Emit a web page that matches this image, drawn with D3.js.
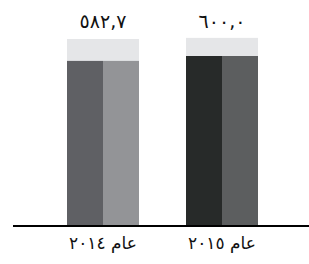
<!DOCTYPE html>
<html>
<head>
<meta charset="utf-8">
<script src="https://cdn.jsdelivr.net/npm/d3@7"></script>
<style>
  html, body { margin: 0; padding: 0; background: #fff; }
  text { font-family: "DejaVu Sans", sans-serif; }
</style>
</head>
<body>
<div id="chart"></div>
<script>
// Chart data
const years = ['عام ٢٠١٤', 'عام ٢٠١٥'];
const values = [582.7, 600.0];
const valueLabels = ['٥٨٢,٧', '٦٠٠,٠'];
const capValues = [660, 664]; // light grey backdrop behind each bar

const width = 309, height = 264;
const baseY = 226;

// left / right half colours per year
const colorMap = {
  'عام ٢٠١٤': ['#5f6064', '#939497'],
  'عام ٢٠١٥': ['#272a29', '#5c5e5f'],
};

const svg = d3.select('#chart').append('svg')
  .attr('width', width)
  .attr('height', height);

const x = d3.scaleBand()
  .domain(years)
  .range([67, 258])
  .paddingInner(0.395)
  .paddingOuter(0);

const half = d3.scaleBand()
  .domain([0, 1])
  .range([0, x.bandwidth()]);

const y = d3.scaleLinear()
  .domain([0, 600])
  .range([baseY, 56]);

const groups = svg.selectAll('g.bar')
  .data(years)
  .enter()
  .append('g')
  .attr('class', 'bar')
  .attr('transform', d => `translate(${x(d)},0)`);

// Backdrop
groups.append('rect')
  .attr('x', 0)
  .attr('width', x.bandwidth())
  .attr('y', (d, i) => y(capValues[i]))
  .attr('height', (d, i) => baseY - y(capValues[i]))
  .attr('fill', '#e5e6e8');

// Two halves of each bar
groups.each(function (d, i) {
  d3.select(this).selectAll('rect.half')
    .data([0, 1])
    .enter()
    .append('rect')
    .attr('class', 'half')
    .attr('x', k => half(k))
    .attr('width', half.bandwidth())
    .attr('y', y(values[i]))
    .attr('height', baseY - y(values[i]))
    .attr('fill', k => colorMap[d][k]);
});

// Value labels
groups.append('text')
  .attr('x', x.bandwidth() / 2)
  .attr('y', 28)
  .attr('text-anchor', 'middle')
  .style('font-size', '19px')
  .attr('fill', '#111')
  .text((d, i) => valueLabels[i]);

// Baseline
const xAxis = svg.append('g')
  .attr('transform', `translate(0,${baseY})`)
  .call(d3.axisBottom(x).tickSize(0).tickPadding(11));

xAxis.select('.domain').remove();
xAxis.append('line')
  .attr('x1', 13).attr('x2', 309)
  .attr('stroke', '#000')
  .attr('stroke-width', 2);

xAxis.selectAll('.tick text')
  .attr('fill', '#111')
  .style('font-family', '"DejaVu Sans", sans-serif')
  .style('font-size', '17px');
</script>
</body>
</html>
